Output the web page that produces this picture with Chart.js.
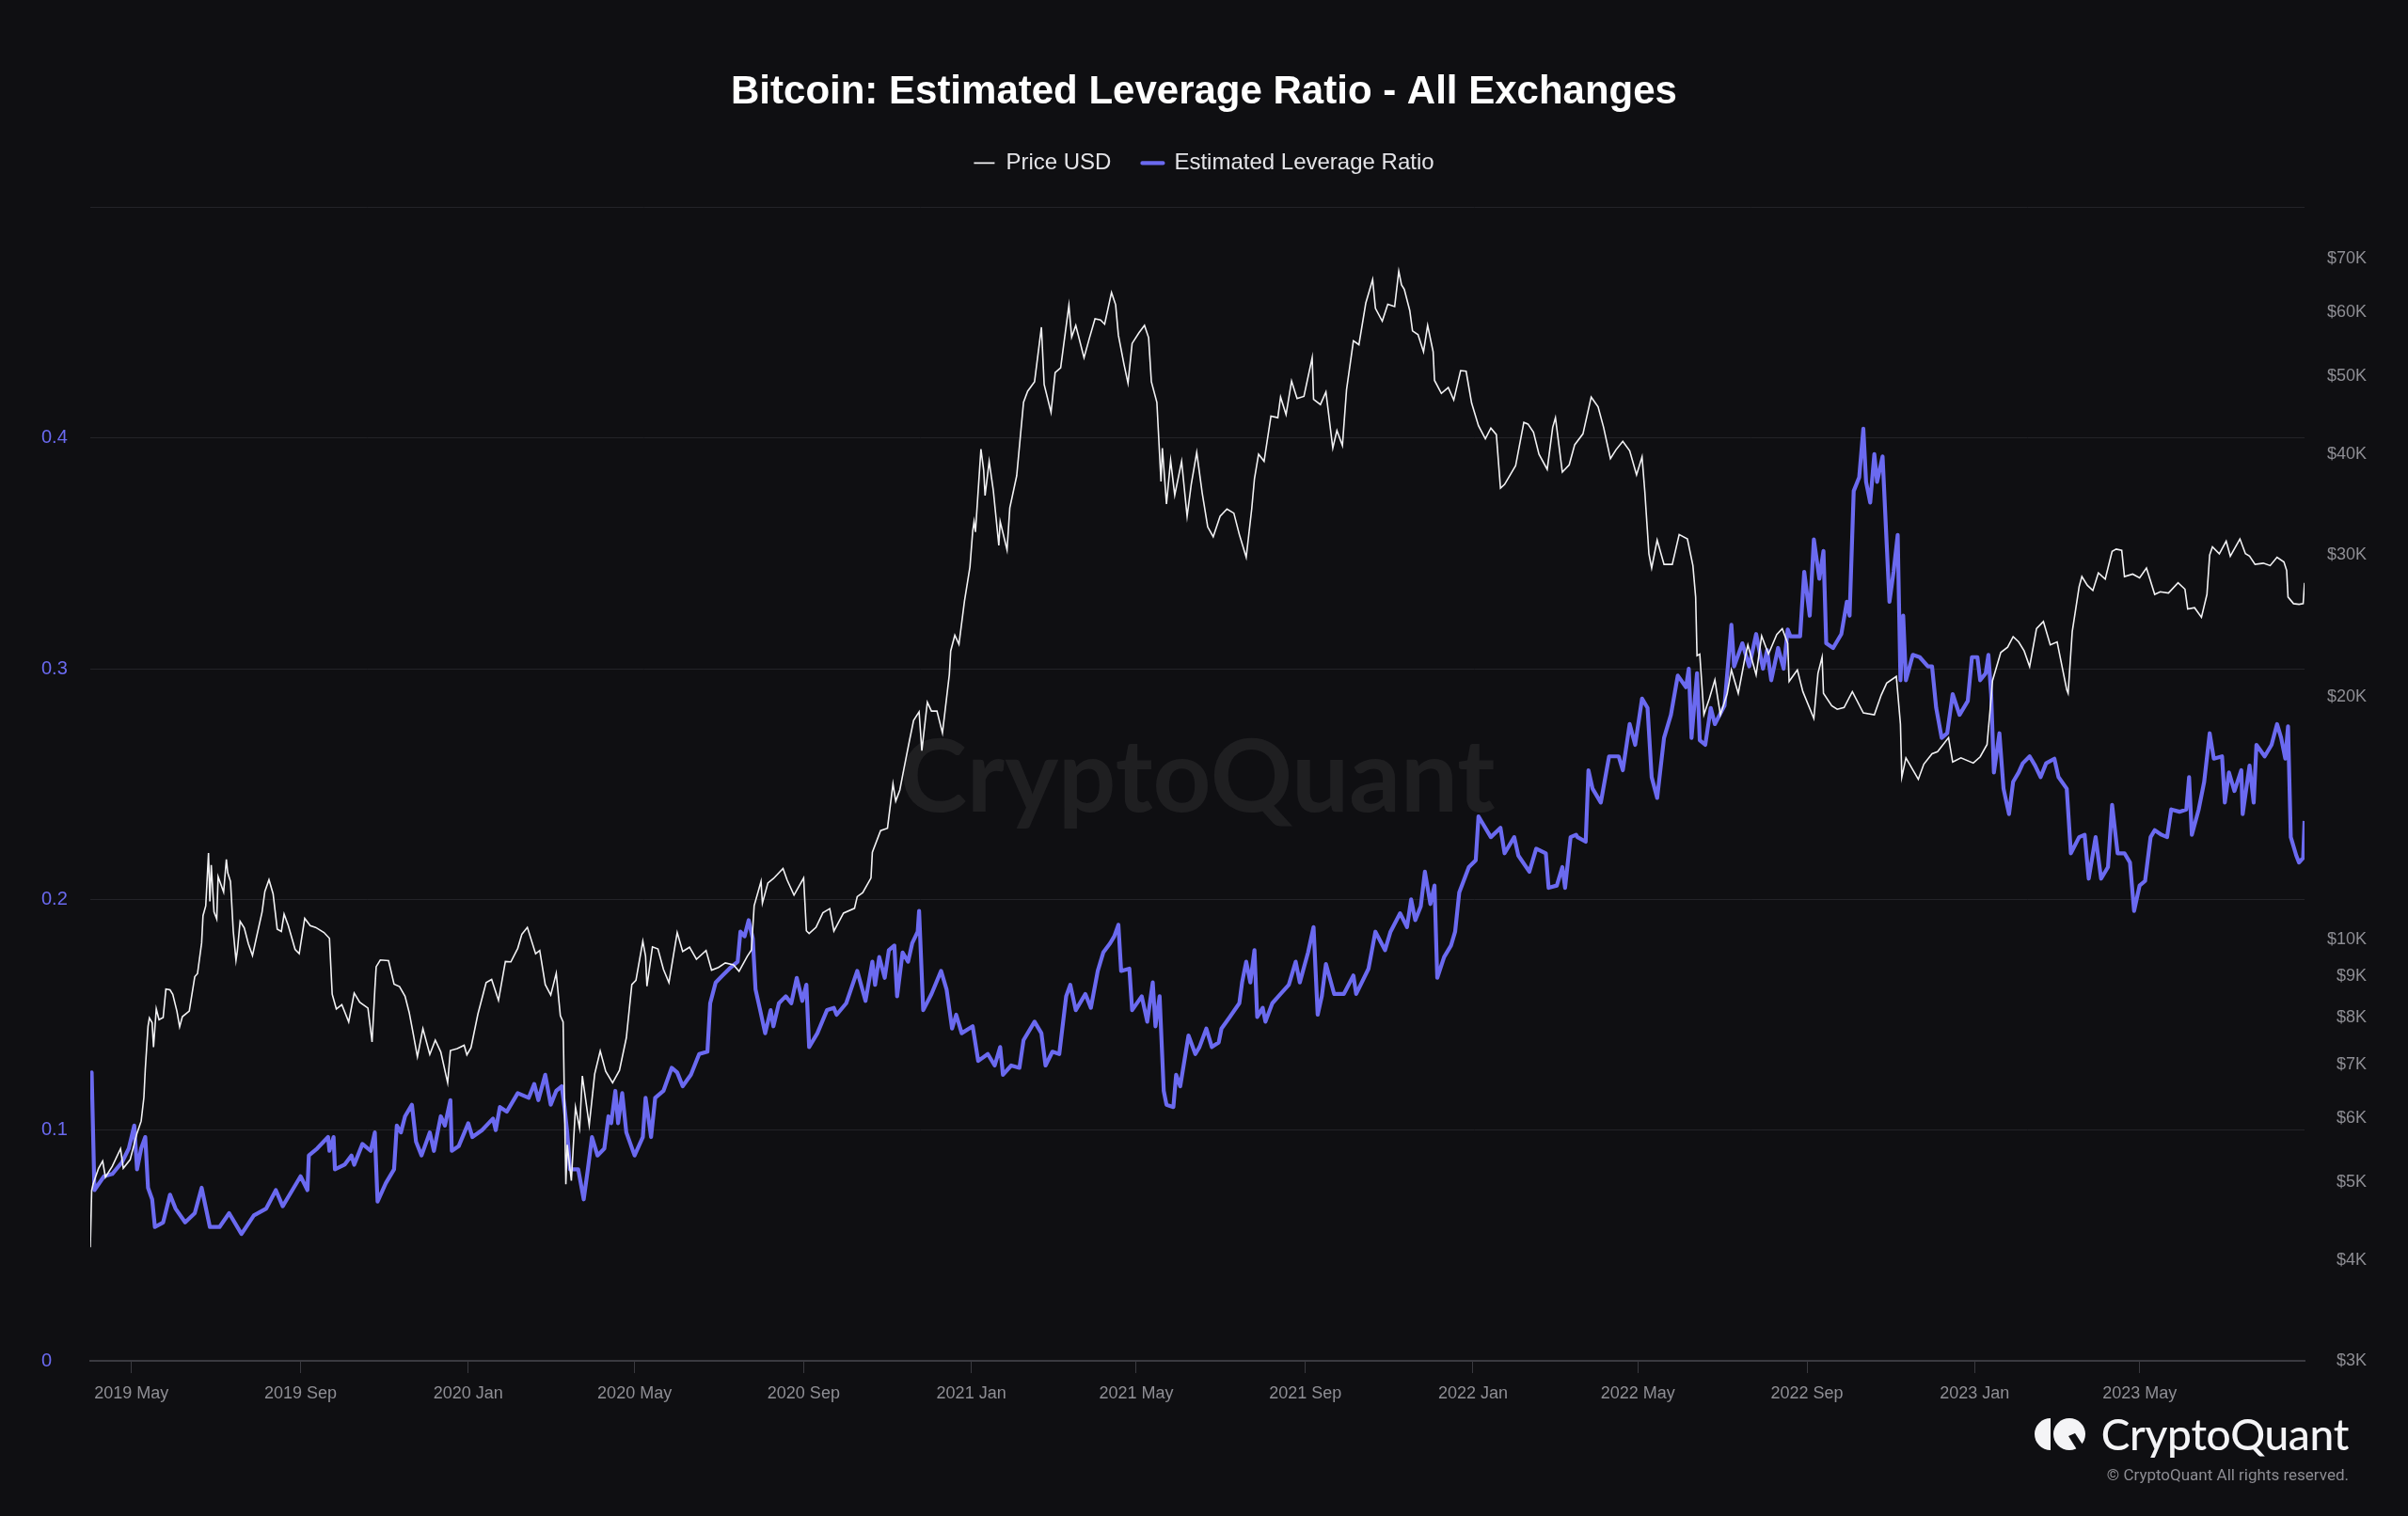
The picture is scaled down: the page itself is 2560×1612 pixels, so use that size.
<!DOCTYPE html>
<html>
<head>
<meta charset="utf-8">
<script src="https://cdn.jsdelivr.net/npm/chart.js@4.4.0/dist/chart.umd.min.js"></script>
<style>
  html, body { margin: 0; padding: 0; background: #0f0f12; }
  #wrap { position: relative; width: 2560px; height: 1612px; background: #0f0f12; overflow: hidden; }
  #c { position: absolute; left: 0; top: 0; display: block; }
  #logoIcon { position: absolute; left: 2163px; top: 1508px; }
  #logoText { position: absolute; right: 63px; top: 1499px; font-family: 'Lato', sans-serif; font-weight: 500; font-size: 46px; line-height: 52px; color: #f4f4f6; letter-spacing: -0.3px; }
  #copy { position: absolute; right: 63px; top: 1557px; font-family: 'Roboto', sans-serif; font-size: 17px; line-height: 22px; color: #8d8d93; }
</style>
</head>
<body>
<div id="wrap">
  <canvas id="c" width="2560" height="1612"></canvas>
  <svg id="logoIcon" width="56" height="34" viewBox="0 0 56 34">
    <path d="M17 0 A17 17 0 0 0 17 34 Z" fill="#f4f4f6"/>
    <circle cx="37" cy="17" r="17" fill="#f4f4f6"/>
    <path d="M36 19 L43 16 L53 31 L46 35 Z" fill="#0f0f12"/>
  </svg>
  <div id="logoText">CryptoQuant</div>
  <div id="copy">© CryptoQuant All rights reserved.</div>
</div>
<script>
// ---------------- DATA ----------------
const START_DATE = '2019-04-01';
const END_DATE = '2023-08-29';

const xTickDates = ['2019-05-01','2019-09-01','2020-01-01','2020-05-01','2020-09-01','2021-01-01','2021-05-01','2021-09-01','2022-01-01','2022-05-01','2022-09-01','2023-01-01','2023-05-01'];
const xTickLabels = ['2019 May','2019 Sep','2020 Jan','2020 May','2020 Sep','2021 Jan','2021 May','2021 Sep','2022 Jan','2022 May','2022 Sep','2023 Jan','2023 May'];

const leftTicks = [0, 0.1, 0.2, 0.3, 0.4, 0.5];
const rightTicks = [3000,4000,5000,6000,7000,8000,9000,10000,20000,30000,40000,50000,60000,70000];

// Price USD (date, value)
const priceDates = [
'2019-04-01','2019-04-02','2019-04-03','2019-04-07','2019-04-10','2019-04-12','2019-04-17','2019-04-23','2019-04-25','2019-04-30',
'2019-05-05','2019-05-08','2019-05-10','2019-05-11','2019-05-13','2019-05-14','2019-05-16','2019-05-17','2019-05-19','2019-05-21',
'2019-05-24','2019-05-26','2019-05-29','2019-05-31','2019-06-03','2019-06-05','2019-06-07','2019-06-12','2019-06-16','2019-06-18',
'2019-06-21','2019-06-22','2019-06-24','2019-06-26','2019-06-27','2019-06-28','2019-06-30','2019-07-02','2019-07-03','2019-07-07',
'2019-07-09','2019-07-10','2019-07-12','2019-07-14','2019-07-16','2019-07-17','2019-07-19','2019-07-22','2019-07-25','2019-07-28',
'2019-07-31','2019-08-04','2019-08-06','2019-08-09','2019-08-12','2019-08-15','2019-08-18','2019-08-20','2019-08-23','2019-08-28',
'2019-08-31','2019-09-04','2019-09-08','2019-09-12','2019-09-18','2019-09-22','2019-09-24','2019-09-27','2019-10-01','2019-10-06',
'2019-10-10','2019-10-14','2019-10-20','2019-10-23','2019-10-25','2019-10-26','2019-10-29','2019-11-04','2019-11-08','2019-11-12',
'2019-11-16','2019-11-19','2019-11-22','2019-11-25','2019-11-29','2019-12-04','2019-12-08','2019-12-12','2019-12-17','2019-12-19',
'2019-12-24','2019-12-29','2019-12-31',
'2020-01-03','2020-01-08','2020-01-14','2020-01-18','2020-01-23','2020-01-28','2020-02-01','2020-02-06','2020-02-09','2020-02-13',
'2020-02-19','2020-02-22','2020-02-26','2020-03-01','2020-03-05','2020-03-08','2020-03-10','2020-03-12','2020-03-13','2020-03-16',
'2020-03-19','2020-03-22','2020-03-24','2020-03-29','2020-04-02','2020-04-06','2020-04-10','2020-04-15','2020-04-20','2020-04-25',
'2020-04-29','2020-05-02','2020-05-07','2020-05-09','2020-05-10','2020-05-14','2020-05-18','2020-05-22','2020-05-26','2020-06-01',
'2020-06-05','2020-06-10','2020-06-15','2020-06-22','2020-06-26','2020-07-01','2020-07-06','2020-07-12','2020-07-16','2020-07-22',
'2020-07-25','2020-07-27','2020-08-01','2020-08-02','2020-08-06','2020-08-10','2020-08-17','2020-08-20','2020-08-25','2020-09-01',
'2020-09-03','2020-09-05','2020-09-10','2020-09-15','2020-09-20','2020-09-23','2020-09-30','2020-10-08','2020-10-10','2020-10-14',
'2020-10-20','2020-10-21','2020-10-27','2020-11-01','2020-11-05','2020-11-07','2020-11-10','2020-11-13','2020-11-17','2020-11-20',
'2020-11-24','2020-11-26','2020-11-30','2020-12-03','2020-12-07','2020-12-11','2020-12-16','2020-12-17','2020-12-20','2020-12-23',
'2020-12-27','2020-12-31',
'2021-01-02','2021-01-03','2021-01-04','2021-01-08','2021-01-10','2021-01-11','2021-01-14','2021-01-17','2021-01-21','2021-01-22',
'2021-01-27','2021-01-29','2021-02-03','2021-02-08','2021-02-11','2021-02-16','2021-02-21','2021-02-23','2021-02-28','2021-03-03',
'2021-03-07','2021-03-13','2021-03-15','2021-03-18','2021-03-24','2021-03-28','2021-04-01','2021-04-05','2021-04-08','2021-04-13',
'2021-04-16','2021-04-18','2021-04-22','2021-04-25','2021-04-28','2021-05-03','2021-05-07','2021-05-10','2021-05-12','2021-05-16',
'2021-05-19','2021-05-20','2021-05-23','2021-05-26','2021-05-29','2021-06-03','2021-06-07','2021-06-10','2021-06-14','2021-06-18',
'2021-06-22','2021-06-26','2021-07-01','2021-07-06','2021-07-11','2021-07-15','2021-07-20','2021-07-24','2021-07-26','2021-07-29',
'2021-08-02','2021-08-07','2021-08-12','2021-08-14','2021-08-18','2021-08-22','2021-08-26','2021-08-31','2021-09-06','2021-09-07',
'2021-09-12','2021-09-16','2021-09-21','2021-09-24','2021-09-28','2021-10-01','2021-10-06','2021-10-10','2021-10-15','2021-10-20',
'2021-10-22','2021-10-27','2021-10-31','2021-11-05','2021-11-08','2021-11-10','2021-11-12','2021-11-16','2021-11-18','2021-11-22',
'2021-11-26','2021-11-29','2021-12-03','2021-12-04','2021-12-09','2021-12-14','2021-12-18','2021-12-23','2021-12-27','2021-12-31',
'2022-01-05','2022-01-10','2022-01-14','2022-01-18','2022-01-21','2022-01-24','2022-01-28','2022-02-01','2022-02-07','2022-02-10',
'2022-02-14','2022-02-18','2022-02-24','2022-02-28','2022-03-02','2022-03-07','2022-03-12','2022-03-16','2022-03-22','2022-03-28',
'2022-04-02','2022-04-06','2022-04-11','2022-04-15','2022-04-20','2022-04-25','2022-04-30','2022-05-04','2022-05-06','2022-05-09',
'2022-05-11','2022-05-15','2022-05-20','2022-05-26','2022-05-31','2022-06-06','2022-06-10','2022-06-12','2022-06-13','2022-06-15',
'2022-06-18','2022-06-22','2022-06-26','2022-06-30','2022-07-05','2022-07-08','2022-07-13','2022-07-18','2022-07-20','2022-07-26',
'2022-07-30','2022-08-04','2022-08-10','2022-08-14','2022-08-18','2022-08-19','2022-08-25','2022-08-29','2022-09-06','2022-09-09',
'2022-09-12','2022-09-13','2022-09-19','2022-09-23','2022-09-28','2022-10-04','2022-10-12','2022-10-20','2022-10-25','2022-10-29',
'2022-11-05','2022-11-08','2022-11-09','2022-11-12','2022-11-21','2022-11-25','2022-12-01','2022-12-05','2022-12-13','2022-12-16',
'2022-12-22','2022-12-31',
'2023-01-05','2023-01-10','2023-01-13','2023-01-14','2023-01-20','2023-01-25','2023-01-29','2023-02-02','2023-02-06','2023-02-10',
'2023-02-15','2023-02-20','2023-02-25','2023-03-02','2023-03-09','2023-03-10','2023-03-13','2023-03-18','2023-03-20','2023-03-24',
'2023-03-28','2023-04-01','2023-04-06','2023-04-11','2023-04-14','2023-04-18','2023-04-20','2023-04-26','2023-05-01','2023-05-06',
'2023-05-12','2023-05-16','2023-05-22','2023-05-29','2023-06-03','2023-06-05','2023-06-10','2023-06-15','2023-06-19','2023-06-21',
'2023-06-23','2023-06-28','2023-07-03','2023-07-06','2023-07-13','2023-07-17','2023-07-20','2023-07-24','2023-07-30','2023-08-04',
'2023-08-09','2023-08-14','2023-08-16','2023-08-17','2023-08-21','2023-08-25','2023-08-28','2023-08-29'
];
const priceValues = [
4150,4880,4970,5200,5310,5070,5230,5500,5200,5330,
5750,5950,6370,6900,7800,7990,7880,7350,8200,7950,
8000,8680,8660,8550,8150,7790,8020,8150,8990,9070,
9900,10700,11010,12800,11150,12370,10820,10600,11960,11450,
12570,12100,11800,10250,9420,9680,10530,10340,9880,9550,
10080,10820,11470,11860,11390,10300,10230,10750,10410,9720,
9600,10620,10400,10350,10200,10030,8550,8200,8300,7900,
8580,8360,8220,7460,8660,9250,9430,9410,8800,8740,
8500,8120,7630,7150,7750,7200,7500,7250,6640,7280,
7320,7390,7190,
7340,8080,8840,8920,8400,9390,9380,9750,10150,10350,
9600,9690,8790,8530,9080,8040,7900,4970,5560,5020,
6190,5830,6770,5880,6810,7270,6860,6640,6880,7550,
8790,8900,9950,9530,8750,9790,9730,9180,8840,10200,
9660,9780,9450,9690,9160,9230,9350,9300,9130,9530,
9700,11010,11800,11090,11750,11900,12250,11850,11350,11920,
10250,10170,10350,10790,10920,10240,10780,10930,11300,11430,
11920,12830,13650,13740,15600,14850,15330,16300,17650,18700,
19160,17150,19700,19200,19200,18040,21310,22800,23850,23240,
26270,28990,
32100,33000,32030,40580,38200,35550,39190,36070,30830,33000,
30430,34300,37600,46400,47900,49200,57500,48800,45100,50500,
51200,61200,55900,57800,52700,55800,58900,58700,58000,63500,
61300,56200,51800,49000,54900,56600,57800,55800,49200,46400,
37000,40700,34700,39300,35600,39200,33500,36700,40200,35800,
32500,31600,33500,34200,33800,31800,29800,34200,37300,40000,
39200,44600,44400,47100,44800,49300,46900,47200,52700,46800,
46100,47800,40700,42800,41000,48100,55300,54700,61600,65900,
60700,58500,61400,61000,67500,64900,64100,60300,56900,56300,
53600,57800,53600,49400,47600,48400,46700,50800,50700,46300,
43400,41800,43100,42300,36300,36700,37700,38700,43800,43600,
42600,40000,38300,43200,44400,38000,38800,41100,42400,47100,
45800,43200,39500,40500,41500,40400,37700,39700,36000,30100,
28900,31300,29200,29200,31800,31400,29100,26600,22500,22600,
19000,19900,21000,19000,20200,21600,20200,22400,23200,21300,
23800,22600,23900,24300,23300,20900,21600,20300,18800,21400,
22400,20200,19500,19300,19400,20300,19100,19000,20100,20800,
21200,18500,15900,16800,15800,16500,17000,17100,17800,16600,
16800,16550,
16850,17450,19930,20950,22700,23050,23750,23400,22800,21800,
24300,24800,23200,23400,20400,20200,24100,27400,28200,27500,
27100,28500,28000,30300,30500,30400,28200,28400,28100,28900,
26800,27000,26900,27700,27200,25700,25800,25100,26800,30000,
30700,30100,31200,29900,31400,30100,29900,29200,29300,29100,
29800,29400,28700,26600,26100,26050,26100,27700
];

// Estimated Leverage Ratio (days since 2019-04-01, value)
const levDays = [
0,1,3,10,16,23,28,32,34,37,40,42,45,47,53,58,62,69,76,81,87,94,101,110,119,128,135,140,147,153,
158,159,165,173,174,177,178,185,190,192,198,204,207,209,215,221,223,226,229,234,237,241,247,250,255,258,262,263,
268,275,278,285,293,295,298,303,311,319,323,326,331,335,339,343,345,347,349,352,355,359,362,365,369,374,
377,379,382,384,387,390,396,402,404,408,411,417,423,427,431,437,443,449,451,455,460,465,471,473,476,479,
482,484,487,491,495,497,501,506,510,514,518,521,523,529,536,
541,543,550,558,564,569,571,574,578,581,585,587,591,595,598,602,603,606,612,619,623,627,630,634,642,646,
653,658,662,664,670,676,679,687,692,695,700,705,710,713,717,724,728,733,737,742,745,748,750,756,758,765,
769,773,775,778,781,783,788,790,793,799,804,
807,812,816,821,823,829,836,838,841,844,847,849,853,855,860,866,872,877,880,886,890,893,896,899,905,912,
919,921,930,935,942,946,953,958,961,964,968,971,975,978,980,985,990,993,996,1003,1008,1010,1012,1019,
1026,1029,1036,1039,1047,1052,1059,1061,1067,1071,1073,1077,1081,
1082,1088,1090,1093,1099,1105,1112,1115,1120,1124,1129,1133,1136,1140,1145,1150,1155,1161,1163,1165,
1169,1171,1175,1179,1182,1189,1194,1196,1202,1207,1212,1217,1220,1223,1228,1232,1235,1237,1244,1247,
1251,1254,1258,1261,1263,1268,1274,1278,1280,1283,1287,1290,1292,1295,1298,1300,1304,1307,1309,1312,
1315,1317,1319,1321,1326,1331,1337,1340,1343,1347,
1351,1355,1360,1366,1369,1373,1375,1379,1381,1383,1385,1389,1392,1396,1399,1403,1406,1411,1415,1419,
1423,1429,1432,1438,1441,1447,1451,1454,1459,1463,1468,1471,1475,1480,1484,1487,1491,1495,1499,1502,
1507,1511,1514,1520,1525,1527,1529,1534,1538,1542,1545,1551,1553,1556,1560,1565,1566,1571,1574,1576,
1582,1587,1591,1594,1597,1599,1601,1605,1607,1610,1611
];
const levValues = [
0.120,0.125,0.074,0.080,0.081,0.086,0.092,0.102,0.083,0.092,0.097,0.075,0.070,0.058,0.060,0.072,0.066,0.060,0.064,0.075,0.058,0.058,0.064,0.055,0.063,0.066,0.074,0.067,0.074,0.080,
0.074,0.089,0.092,0.097,0.091,0.097,0.083,0.085,0.089,0.085,0.094,0.091,0.099,0.069,0.077,0.083,0.102,0.099,0.106,0.111,0.095,0.089,0.099,0.091,0.106,0.102,0.113,0.091,
0.093,0.103,0.097,0.100,0.105,0.100,0.110,0.108,0.116,0.114,0.120,0.113,0.124,0.111,0.117,0.119,0.110,0.099,0.083,0.083,0.083,0.070,0.083,0.097,0.089,0.092,
0.106,0.103,0.117,0.103,0.116,0.099,0.089,0.097,0.114,0.097,0.114,0.117,0.127,0.125,0.119,0.124,0.133,0.134,0.155,0.164,0.167,0.170,0.173,0.186,0.184,0.191,
0.183,0.161,0.153,0.142,0.152,0.145,0.155,0.158,0.155,0.166,0.156,0.163,0.136,0.142,0.152,
0.153,0.150,0.155,0.169,0.156,0.173,0.163,0.175,0.166,0.178,0.180,0.158,0.177,0.173,0.181,0.186,0.195,0.152,0.159,0.169,0.161,0.144,0.150,0.142,0.145,0.130,
0.133,0.128,0.136,0.124,0.128,0.127,0.139,0.147,0.142,0.128,0.134,0.133,0.158,0.163,0.152,0.159,0.153,0.169,0.177,0.181,0.184,0.189,0.169,0.170,0.152,0.158,
0.147,0.164,0.145,0.158,0.117,0.111,0.110,0.124,0.119,0.141,0.133,
0.136,0.144,0.136,0.138,0.144,0.149,0.155,0.164,0.173,0.164,0.178,0.149,0.153,0.147,0.155,0.159,0.163,0.173,0.164,0.177,0.188,0.150,0.158,0.172,0.159,0.159,
0.167,0.159,0.170,0.186,0.178,0.186,0.194,0.188,0.200,0.191,0.197,0.212,0.198,0.206,0.166,0.175,0.180,0.186,0.203,0.214,0.217,0.236,0.234,0.227,
0.231,0.220,0.227,0.219,0.212,0.222,0.220,0.205,0.206,0.214,0.205,0.227,0.228,
0.227,0.225,0.256,0.248,0.242,0.262,0.262,0.256,0.276,0.267,0.287,0.283,0.253,0.244,0.270,0.280,0.297,0.292,0.300,0.270,
0.298,0.269,0.267,0.283,0.276,0.284,0.319,0.301,0.311,0.301,0.315,0.300,0.308,0.295,0.309,0.300,0.317,0.314,0.314,0.342,
0.323,0.356,0.339,0.351,0.311,0.309,0.315,0.329,0.323,0.377,0.383,0.404,0.381,0.372,0.393,0.381,0.392,0.354,0.329,0.342,
0.358,0.295,0.323,0.295,0.306,0.305,0.301,0.301,0.283,0.270,
0.272,0.289,0.280,0.286,0.305,0.305,0.295,0.298,0.306,0.289,0.255,0.272,0.248,0.237,0.251,0.255,0.259,0.262,0.258,0.253,
0.259,0.261,0.253,0.248,0.220,0.227,0.228,0.209,0.227,0.209,0.214,0.241,0.220,0.220,0.216,0.195,0.206,0.208,0.227,0.230,
0.228,0.227,0.239,0.238,0.239,0.253,0.228,0.239,0.251,0.272,0.261,0.262,0.242,0.255,0.247,0.256,0.237,0.258,0.242,0.267,
0.262,0.267,0.276,0.270,0.261,0.275,0.227,0.219,0.216,0.218,0.234
];

// ---------------- BUILD ----------------
const DAY_MS = 86400000;
const t0 = Date.parse(START_DATE + 'T00:00:00Z');
const toDay = s => Math.round((Date.parse(s + 'T00:00:00Z') - t0) / DAY_MS);
const xMax = toDay(END_DATE);
const xTickDays = xTickDates.map(toDay);

const priceData = priceDates.map((d, i) => ({ x: toDay(d), y: priceValues[i] }));
const levData = levDays.map((d, i) => ({ x: d, y: levValues[i] }));

const BG = '#0f0f12';
const PURPLE = '#6b6af0';
const GRID = '#232328';
const AXIS = '#3a3a40';
const GREY = '#8e8e94';
const FONT = "'Liberation Sans', Arial, Helvetica, sans-serif";

Chart.defaults.font.family = FONT;

const legendGap = {
  id: 'legendGap',
  beforeLayout(chart) {
    const lg = chart.legend;
    if (lg && !lg._gapPatched) {
      const orig = lg.fit;
      lg.fit = function () { orig.call(this); this.height += 25; };
      lg._gapPatched = true;
    }
  }
};

const watermark = {
  id: 'watermark',
  beforeDatasetsDraw(chart) {
    const { ctx, chartArea: a } = chart;
    ctx.save();
    ctx.font = "bold 108px Lato, 'Noto Sans', sans-serif";
    ctx.fillStyle = 'rgba(255,255,255,0.065)';
    ctx.textAlign = 'center';
    ctx.textBaseline = 'alphabetic';
    ctx.fillText('CryptoQuant', (a.left + a.right) / 2, a.top + 643);
    ctx.restore();
  }
};

const bgPlugin = {
  id: 'bg',
  beforeDraw(chart) {
    const { ctx, width, height } = chart;
    ctx.save();
    ctx.fillStyle = BG;
    ctx.fillRect(0, 0, width, height);
    ctx.restore();
  }
};

new Chart(document.getElementById('c'), {
  type: 'line',
  data: {
    datasets: [
      {
        label: 'Price USD',
        data: priceData,
        yAxisID: 'yPrice',
        borderColor: '#f2f2f4',
        backgroundColor: '#f2f2f4',
        borderWidth: 1.6,
        pointRadius: 0,
        tension: 0
      },
      {
        label: 'Estimated Leverage Ratio',
        data: levData,
        yAxisID: 'yLev',
        borderColor: PURPLE,
        backgroundColor: PURPLE,
        borderWidth: 4.2,
        pointRadius: 0,
        tension: 0,
        borderJoinStyle: 'round'
      }
    ]
  },
  options: {
    responsive: false,
    animation: false,
    devicePixelRatio: 1,
    layout: { padding: { left: 44, right: 44, top: 0, bottom: 0 } },
    plugins: {
      title: {
        display: true,
        text: 'Bitcoin: Estimated Leverage Ratio - All Exchanges',
        color: '#ffffff',
        font: { family: FONT, size: 42, weight: 'bold' },
        padding: { top: 73, bottom: 5 }
      },
      legend: {
        display: true,
        position: 'top',
        labels: {
          color: '#e4e4e8',
          font: { family: FONT, size: 24 },
          boxWidth: 22,
          boxHeight: 0,
          padding: 33
        }
      },
      tooltip: { enabled: false }
    },
    scales: {
      x: {
        type: 'linear',
        min: 0,
        max: xMax,
        afterBuildTicks: s => { s.ticks = xTickDays.map(v => ({ value: v })); },
        afterFit: s => { s.height = 165; },
        ticks: {
          autoSkip: false,
          maxRotation: 0,
          color: GREY,
          font: { family: FONT, size: 18 },
          padding: 11,
          callback: (v, i) => xTickLabels[i]
        },
        grid: { drawOnChartArea: false, drawTicks: true, tickLength: 13, color: AXIS, lineWidth: 1 },
        border: { display: true, color: AXIS, width: 2 }
      },
      yLev: {
        type: 'linear',
        position: 'left',
        min: 0,
        max: 0.5,
        afterBuildTicks: s => { s.ticks = leftTicks.map(v => ({ value: v })); },
        afterFit: s => { s.width = 52; },
        ticks: {
          color: PURPLE,
          crossAlign: 'far',
          font: { family: FONT, size: 20 },
          callback: v => (v >= 0.5 ? '' : String(Math.round(v * 10) / 10))
        },
        grid: { color: GRID, lineWidth: 1, drawTicks: false },
        border: { display: false }
      },
      yPrice: {
        type: 'logarithmic',
        position: 'right',
        min: 3000,
        max: 81000,
        afterBuildTicks: s => { s.ticks = rightTicks.map(v => ({ value: v })); },
        afterFit: s => { s.width = 66; },
        ticks: {
          autoSkip: false,
          color: GREY,
          crossAlign: 'far',
          font: { family: FONT, size: 18 },
          callback: v => '$' + Math.round(v / 1000) + 'K'
        },
        grid: { display: false },
        border: { display: false }
      }
    }
  },
  plugins: [bgPlugin, legendGap, watermark]
});
</script>
</body>
</html>
